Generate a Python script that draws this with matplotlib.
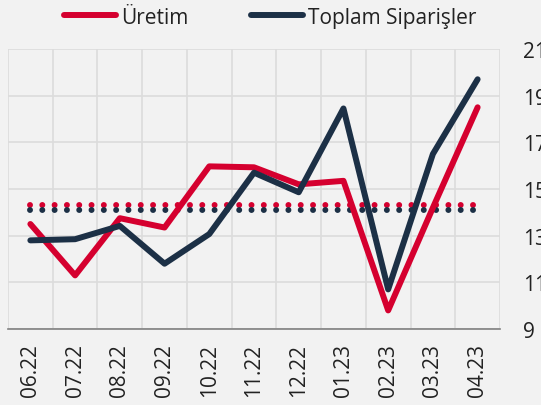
import matplotlib
matplotlib.use("Agg")
import matplotlib.pyplot as plt
import numpy as np

months = ["06.22", "07.22", "08.22", "09.22", "10.22", "11.22",
          "12.22", "01.23", "02.23", "03.23", "04.23"]
uretim = [13.5, 11.3, 13.75, 13.35, 15.97, 15.93, 15.2, 15.35, 9.8, 14.2, 18.5]
siparis = [12.8, 12.85, 13.42, 11.8, 13.07, 15.7, 14.86, 18.45, 10.7, 16.5, 19.7]
uretim_avg = 14.33
siparis_avg = 14.11
yticks = [9, 11, 13, 15, 17, 19, 21]

RED = "#d5002f"
NAVY = "#1c3046"
BG = "#f2f2f2"

plt.rcParams['font.family'] = ['Open Sans', 'DejaVu Sans']
plt.rcParams['lines.scale_dashes'] = False

fig = plt.figure(figsize=(5.41, 4.06), dpi=100, facecolor=BG)
ax = fig.add_axes([0.0148, 0.187, 0.9094, 0.69])
ax.set_facecolor(BG)

x = np.arange(len(months))

ax.plot([x[0], x[-1]], [uretim_avg, uretim_avg], color=RED, lw=4.3,
        linestyle=(0, (0.01, 8.85)), dash_capstyle='round', zorder=2)
ax.plot([x[0], x[-1]], [siparis_avg, siparis_avg], color=NAVY, lw=4.3,
        linestyle=(0, (0.01, 8.85)), dash_capstyle='round', zorder=2)

ax.plot(x, uretim, color=RED, lw=4.3, solid_capstyle='round', zorder=3, label="Üretim")
ax.plot(x, siparis, color=NAVY, lw=4.3, solid_capstyle='round', zorder=4, label="Toplam Siparişler")

ax.set_xlim(-0.5, len(months) - 0.5)
ax.set_ylim(9, 21)
ax.set_xticks(x)
ax.set_xticklabels(months, rotation=90, fontsize=15, color="#222222")
ax.set_xticks(np.arange(-0.5, len(months), 1.0), minor=True)
ax.set_yticks(yticks)
ax.set_yticklabels([str(v) for v in yticks], fontsize=15, color="#222222")
ax.yaxis.tick_right()
ax.tick_params(axis='x', which='both', length=0, pad=10)
ax.tick_params(axis='y', length=0, pad=16.5)
for lbl in ax.get_yticklabels():
    lbl.set_horizontalalignment('left')

ax.grid(True, which='minor', axis='x', color="#dcdcdc", lw=1.2)
ax.grid(True, which='major', axis='y', color="#dcdcdc", lw=1.2)
ax.grid(False, which='major', axis='x')
ax.set_axisbelow(True)
for s in ['left', 'top', 'right']:
    ax.spines[s].set_visible(False)
ax.spines['bottom'].set_color("#808080")
ax.spines['bottom'].set_linewidth(1.2)

leg = fig.legend(loc='center', bbox_to_anchor=(0.5, 0.955), ncol=2, frameon=False,
                 fontsize=15, handlelength=2.5, handletextpad=0.25, columnspacing=3.0,
                 borderaxespad=0)
for t in leg.get_texts():
    t.set_color("#222222")

fig.savefig("out.png", dpi=100, facecolor=BG)
